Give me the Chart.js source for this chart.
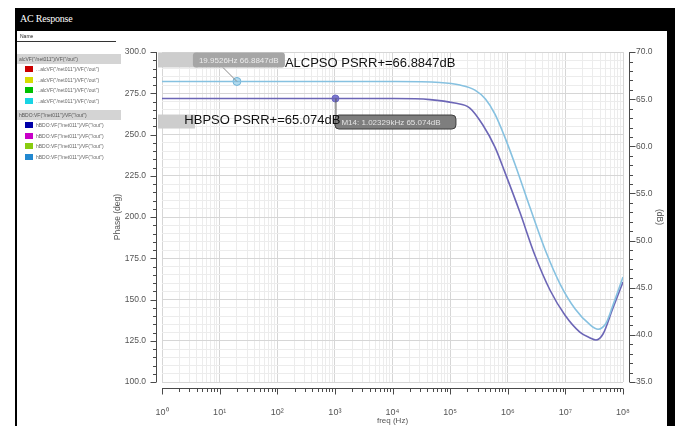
<!DOCTYPE html>
<html>
<head>
<meta charset="utf-8">
<script src="https://cdn.jsdelivr.net/npm/chart.js@4/dist/chart.umd.min.js"></script>
<style>
	body { margin: 0; background: #fff; width: 675px; height: 426px; overflow: hidden; position: relative; }
	#frame { position: absolute; left: 15px; top: 8px; width: 660px; height: 418px; background: #000; }
	#title { position: absolute; left: 20px; top: 13px; color: #fff; font: 10px 'Liberation Serif', serif; letter-spacing: -0.2px; }
	#inner { position: absolute; left: 17px; top: 31px; width: 650px; height: 395px; background: #fff; }
	#c { position: absolute; left: 17px; top: 31px; }
	#names { position: absolute; left: 17px; top: 32px; width: 104px; font: 5px 'Liberation Sans', sans-serif; color: #666; }
	#names .head { padding-left: 3px; height: 9px; line-height: 9px; color: #222; border-bottom: 1px solid #333; width: 96px; }
	#names .grp { background: #d4d4d4; height: 10px; line-height: 10px; padding-left: 2px; color: #555; }
	#names .row { height: 10.5px; line-height: 10.5px; padding-left: 8px; white-space: nowrap; }
	#names .row i { display: inline-block; width: 8px; height: 6px; vertical-align: -1px; margin-right: 3px; }
</style>
</head>
<body>
<div id="frame"></div>
<div id="title">AC Response</div>
<div id="inner"></div>
<canvas id="c" width="650" height="395"></canvas>
<div id="names"></div>
<script>
	// ALCPSO and HBPSO PSRR+ (dB) against frequency (Hz)
	const alcFreq = [1, 10, 100, 1e3, 1e4, 6.6e4, 1.48e5, 2.7e5, 4.1e5, 6.0e5, 8.9e5, 1.35e6, 2.45e6, 4.47e6, 8.1e6, 1.48e7, 2.7e7, 3.7e7, 5.1e7, 6.9e7, 1e8]
	const alcDb = [66.8847, 66.8847, 66.8847, 66.8847, 66.88, 66.77, 66.5, 65.97, 65.02, 63.42, 60.98, 58.02, 53.45, 49.0, 45.39, 42.74, 41.05, 40.6, 41.26, 43.38, 46.14]

	const hbFreq = [1, 10, 100, 1e3, 1e4, 4.5e4, 1.2e5, 2.2e5, 3.7e5, 6.0e5, 8.9e5, 1.62e6, 2.95e6, 5.4e6, 9.8e6, 1.78e7, 2.7e7, 3.4e7, 4.5e7, 6.5e7, 1e8]
	const hbDb = [65.074, 65.074, 65.074, 65.074, 65.07, 64.96, 64.59, 64.06, 62.26, 59.92, 57.27, 53.03, 48.47, 44.76, 42.11, 40.3, 39.67, 39.45, 40.09, 42.64, 45.61]

	// cursor markers
	const markerFreq = [19.9526, 1023.29]
	const markerDb = [66.8847, 65.074]
	const markerText = ['19.9526Hz 66.8847dB', 'M14: 1.02329kHz 65.074dB']
	const noteText = ['ALCPSO PSRR+=' + markerDb[0] + 'dB', 'HBPSO PSRR+=' + markerDb[1] + 'dB']

	// axis ranges / ticks
	const freqDecades = [0, 1, 2, 3, 4, 5, 6, 7, 8]
	const phaseMin = 100, phaseMax = 300
	const dbMin = 35, dbMax = 70

	// signal browser on the left
	const groups = [
		{ name: 'alcVF("/net011")/VF("/out")', rows: [['#cc0000', '...alcVF("/net011")/VF("/out")'], ['#d6dc00', '...alcVF("/net011")/VF("/out")'], ['#00c000', '...alcVF("/net011")/VF("/out")'], ['#18d4e4', '...alcVF("/net011")/VF("/out")']] },
		{ name: 'hBDO:VF("/net011")/VF("/out")', rows: [['#0000a8', 'hBDO:VF("/net011")/VF("/out")'], ['#c800c8', 'hBDO:VF("/net011")/VF("/out")'], ['#88cc10', 'hBDO:VF("/net011")/VF("/out")'], ['#2288d0', 'hBDO:VF("/net011")/VF("/out")']] },
	]
	let html = '<div class="head">Name</div><div style="height:12px"></div>'
	groups.forEach(g => {
		html += `<div class="grp">${g.name}</div>`
		g.rows.forEach(r => (html += `<div class="row"><i style="background:${r[0]}"></i>${r[1]}</div>`))
		html += '<div style="height:4px"></div>'
	})
	document.getElementById('names').innerHTML = html

	const sup = '⁰¹²³⁴⁵⁶⁷⁸⁹'
	const xTicks = []
	freqDecades.forEach(d => {
		if (d === freqDecades[freqDecades.length - 1]) xTicks.push(10 ** d)
		else for (let m = 1; m <= 9; m++) xTicks.push(m * 10 ** d)
	})
	const isDecade = v => {
		const e = Math.round(Math.log10(v))
		return Math.abs(v - 10 ** e) < 1e-6 * v
	}

	const line = (ctx, x1, y1, x2, y2) => {
		ctx.beginPath()
		ctx.moveTo(x1, y1)
		ctx.lineTo(x2, y2)
		ctx.stroke()
	}

	const roundRect = (ctx, x, y, w, h, r) => {
		ctx.beginPath()
		ctx.roundRect(x, y, w, h, r)
	}

	// axis lines and tick marks sit a few px off the plot area
	const axisMarks = {
		id: 'axisMarks',
		afterDraw(chart) {
			const { ctx, chartArea: a, scales } = chart
			ctx.save()
			ctx.strokeStyle = '#4a4a4a'
			ctx.lineWidth = 1

			const lx = Math.round(a.left - 6) + 0.5
			line(ctx, lx, a.top, lx, a.bottom)
			scales.phase.ticks.forEach(t => {
				const y = Math.round(scales.phase.getPixelForValue(t.value)) + 0.5
				line(ctx, lx - (t.value % 25 === 0 ? 6 : 3.5), y, lx, y)
			})

			const rx = Math.round(a.right + 6) + 0.5
			line(ctx, rx, a.top, rx, a.bottom)
			for (let v = dbMin; v <= dbMax; v++) {
				const y = Math.round(scales.db.getPixelForValue(v)) + 0.5
				line(ctx, rx, y, rx + (v % 5 === 0 ? 6 : 3.5), y)
			}

			const by = Math.round(a.bottom + 6) + 0.5
			line(ctx, a.left, by, a.right, by)
			scales.x.ticks.forEach(t => {
				const x = Math.round(scales.x.getPixelForValue(t.value)) + 0.5
				line(ctx, x, by, x, by + (isDecade(t.value) ? 6 : 3.5))
			})
			ctx.restore()
		},
	}

	// cursor boxes and the PSRR notes
	const cursorNotes = {
		id: 'cursorNotes',
		afterDatasetsDraw(chart) {
			const { ctx } = chart
			const pts = chart.getDatasetMeta(2).data
			const p0 = pts[0], p1 = pts[1]
			ctx.save()

			// first cursor: box above the point with a leader
			ctx.fillStyle = '#cdcdcd'
			ctx.fillRect(141, p0.y - 29, 40, 15)
			ctx.strokeStyle = '#8a8a8a'
			ctx.lineWidth = 1
			line(ctx, p0.x - 14, p0.y - 14, p0.x, p0.y)
			ctx.fillStyle = '#a6a6a6'
			roundRect(ctx, p0.x - 44, p0.y - 29, 92, 15, 3)
			ctx.fill()
			ctx.fillStyle = '#ececec'
			ctx.font = '8px "Liberation Sans", sans-serif'
			ctx.textBaseline = 'middle'
			ctx.textAlign = 'left'
			ctx.fillText(markerText[0], p0.x - 38, p0.y - 21)

			// second cursor: box under the point
			ctx.fillStyle = '#cdcdcd'
			ctx.fillRect(141, p1.y + 16, 37, 14)
			ctx.strokeStyle = '#555'
			line(ctx, p1.x + 0.5, p1.y, p1.x + 0.5, p1.y + 17)
			ctx.fillStyle = '#7e7e7e'
			ctx.strokeStyle = '#3c3c3c'
			roundRect(ctx, p1.x - 0.5, p1.y + 16.5, 121, 14, 4)
			ctx.fill()
			ctx.stroke()
			ctx.fillStyle = '#e4e4e4'
			ctx.fillText(markerText[1], p1.x + 6, p1.y + 24)

			ctx.fillStyle = '#111'
			ctx.font = '13px "Liberation Sans", sans-serif'
			ctx.fillText(noteText[0], p0.x + 48, p0.y - 18)
			ctx.textAlign = 'right'
			ctx.fillText(noteText[1], p1.x + 5, p1.y + 22)
			ctx.restore()
		},
	}

	const tickFont = { family: 'Liberation Sans', size: 8.5 }
	const gridCol = major => (major ? '#d6d6d6' : '#ececec')

	new Chart(document.getElementById('c'), {
		type: 'scatter',
		data: {
			datasets: [
				{
					label: 'ALCPSO',
					data: alcFreq.map((f, i) => ({ x: f, y: alcDb[i] })),
					yAxisID: 'db',
					showLine: true,
					borderColor: '#86c1e0',
					borderWidth: 1.6,
					pointRadius: 0,
					cubicInterpolationMode: 'monotone',
				},
				{
					label: 'HBPSO',
					data: hbFreq.map((f, i) => ({ x: f, y: hbDb[i] })),
					yAxisID: 'db',
					showLine: true,
					borderColor: '#6c66b6',
					borderWidth: 1.6,
					pointRadius: 0,
					cubicInterpolationMode: 'monotone',
				},
				{
					label: 'cursors',
					data: markerFreq.map((f, i) => ({ x: f, y: markerDb[i] })),
					yAxisID: 'db',
					pointRadius: [4, 3.5],
					pointBackgroundColor: ['#b4dcef', '#7d7ad0'],
					pointBorderColor: ['#6fb2d6', '#6a66c0'],
					pointBorderWidth: 1,
				},
			],
		},
		options: {
			responsive: false,
			animation: false,
			layout: { padding: { left: 96, top: 21, right: 0, bottom: 0 } },
			plugins: { legend: { display: false }, tooltip: { enabled: false } },
			scales: {
				x: {
					type: 'logarithmic',
					min: 1,
					max: 1e8,
					afterBuildTicks: s => {
						s.ticks = xTicks.map(v => ({ value: v }))
					},
					afterFit: s => {
						s.height = 44
					},
					ticks: {
						autoSkip: false,
						maxRotation: 0,
						padding: 25,
						color: '#555',
						font: { family: 'Liberation Sans', size: 9 },
						callback: v => (isDecade(v) ? '10' + sup[Math.round(Math.log10(v))] : ''),
					},
					grid: { drawTicks: false, color: c => gridCol(c.tick && isDecade(c.tick.value)) },
					border: { display: false },
					title: { display: true, text: 'freq (Hz)', color: '#555', font: { family: 'Liberation Sans', size: 8 }, padding: { top: 0, bottom: 0 } },
				},
				phase: {
					type: 'linear',
					position: 'left',
					min: phaseMin,
					max: phaseMax,
					afterFit: s => {
						s.width = 49
					},
					ticks: {
						stepSize: 5,
						autoSkip: false,
						padding: 16,
						color: '#555',
						font: tickFont,
						callback: v => (v % 25 === 0 ? v.toFixed(1) : ''),
					},
					grid: { drawTicks: false, color: c => gridCol(c.tick && c.tick.value % 25 === 0) },
					border: { display: false },
					title: { display: true, text: 'Phase (deg)', color: '#555', font: { family: 'Liberation Sans', size: 8.5 }, padding: { top: 0, bottom: 0 } },
				},
				db: {
					type: 'linear',
					position: 'right',
					min: dbMin,
					max: dbMax,
					afterFit: s => {
						s.width = 44
					},
					ticks: { stepSize: 5, padding: 13, color: '#555', font: tickFont, callback: v => v.toFixed(1) },
					grid: { drawOnChartArea: false, drawTicks: false },
					border: { display: false },
					title: { display: true, text: '(dB)', color: '#555', font: { family: 'Liberation Sans', size: 8.5 }, padding: { top: 3, bottom: 0 } },
				},
			},
		},
		plugins: [axisMarks, cursorNotes],
	})
</script>
</body>
</html>
